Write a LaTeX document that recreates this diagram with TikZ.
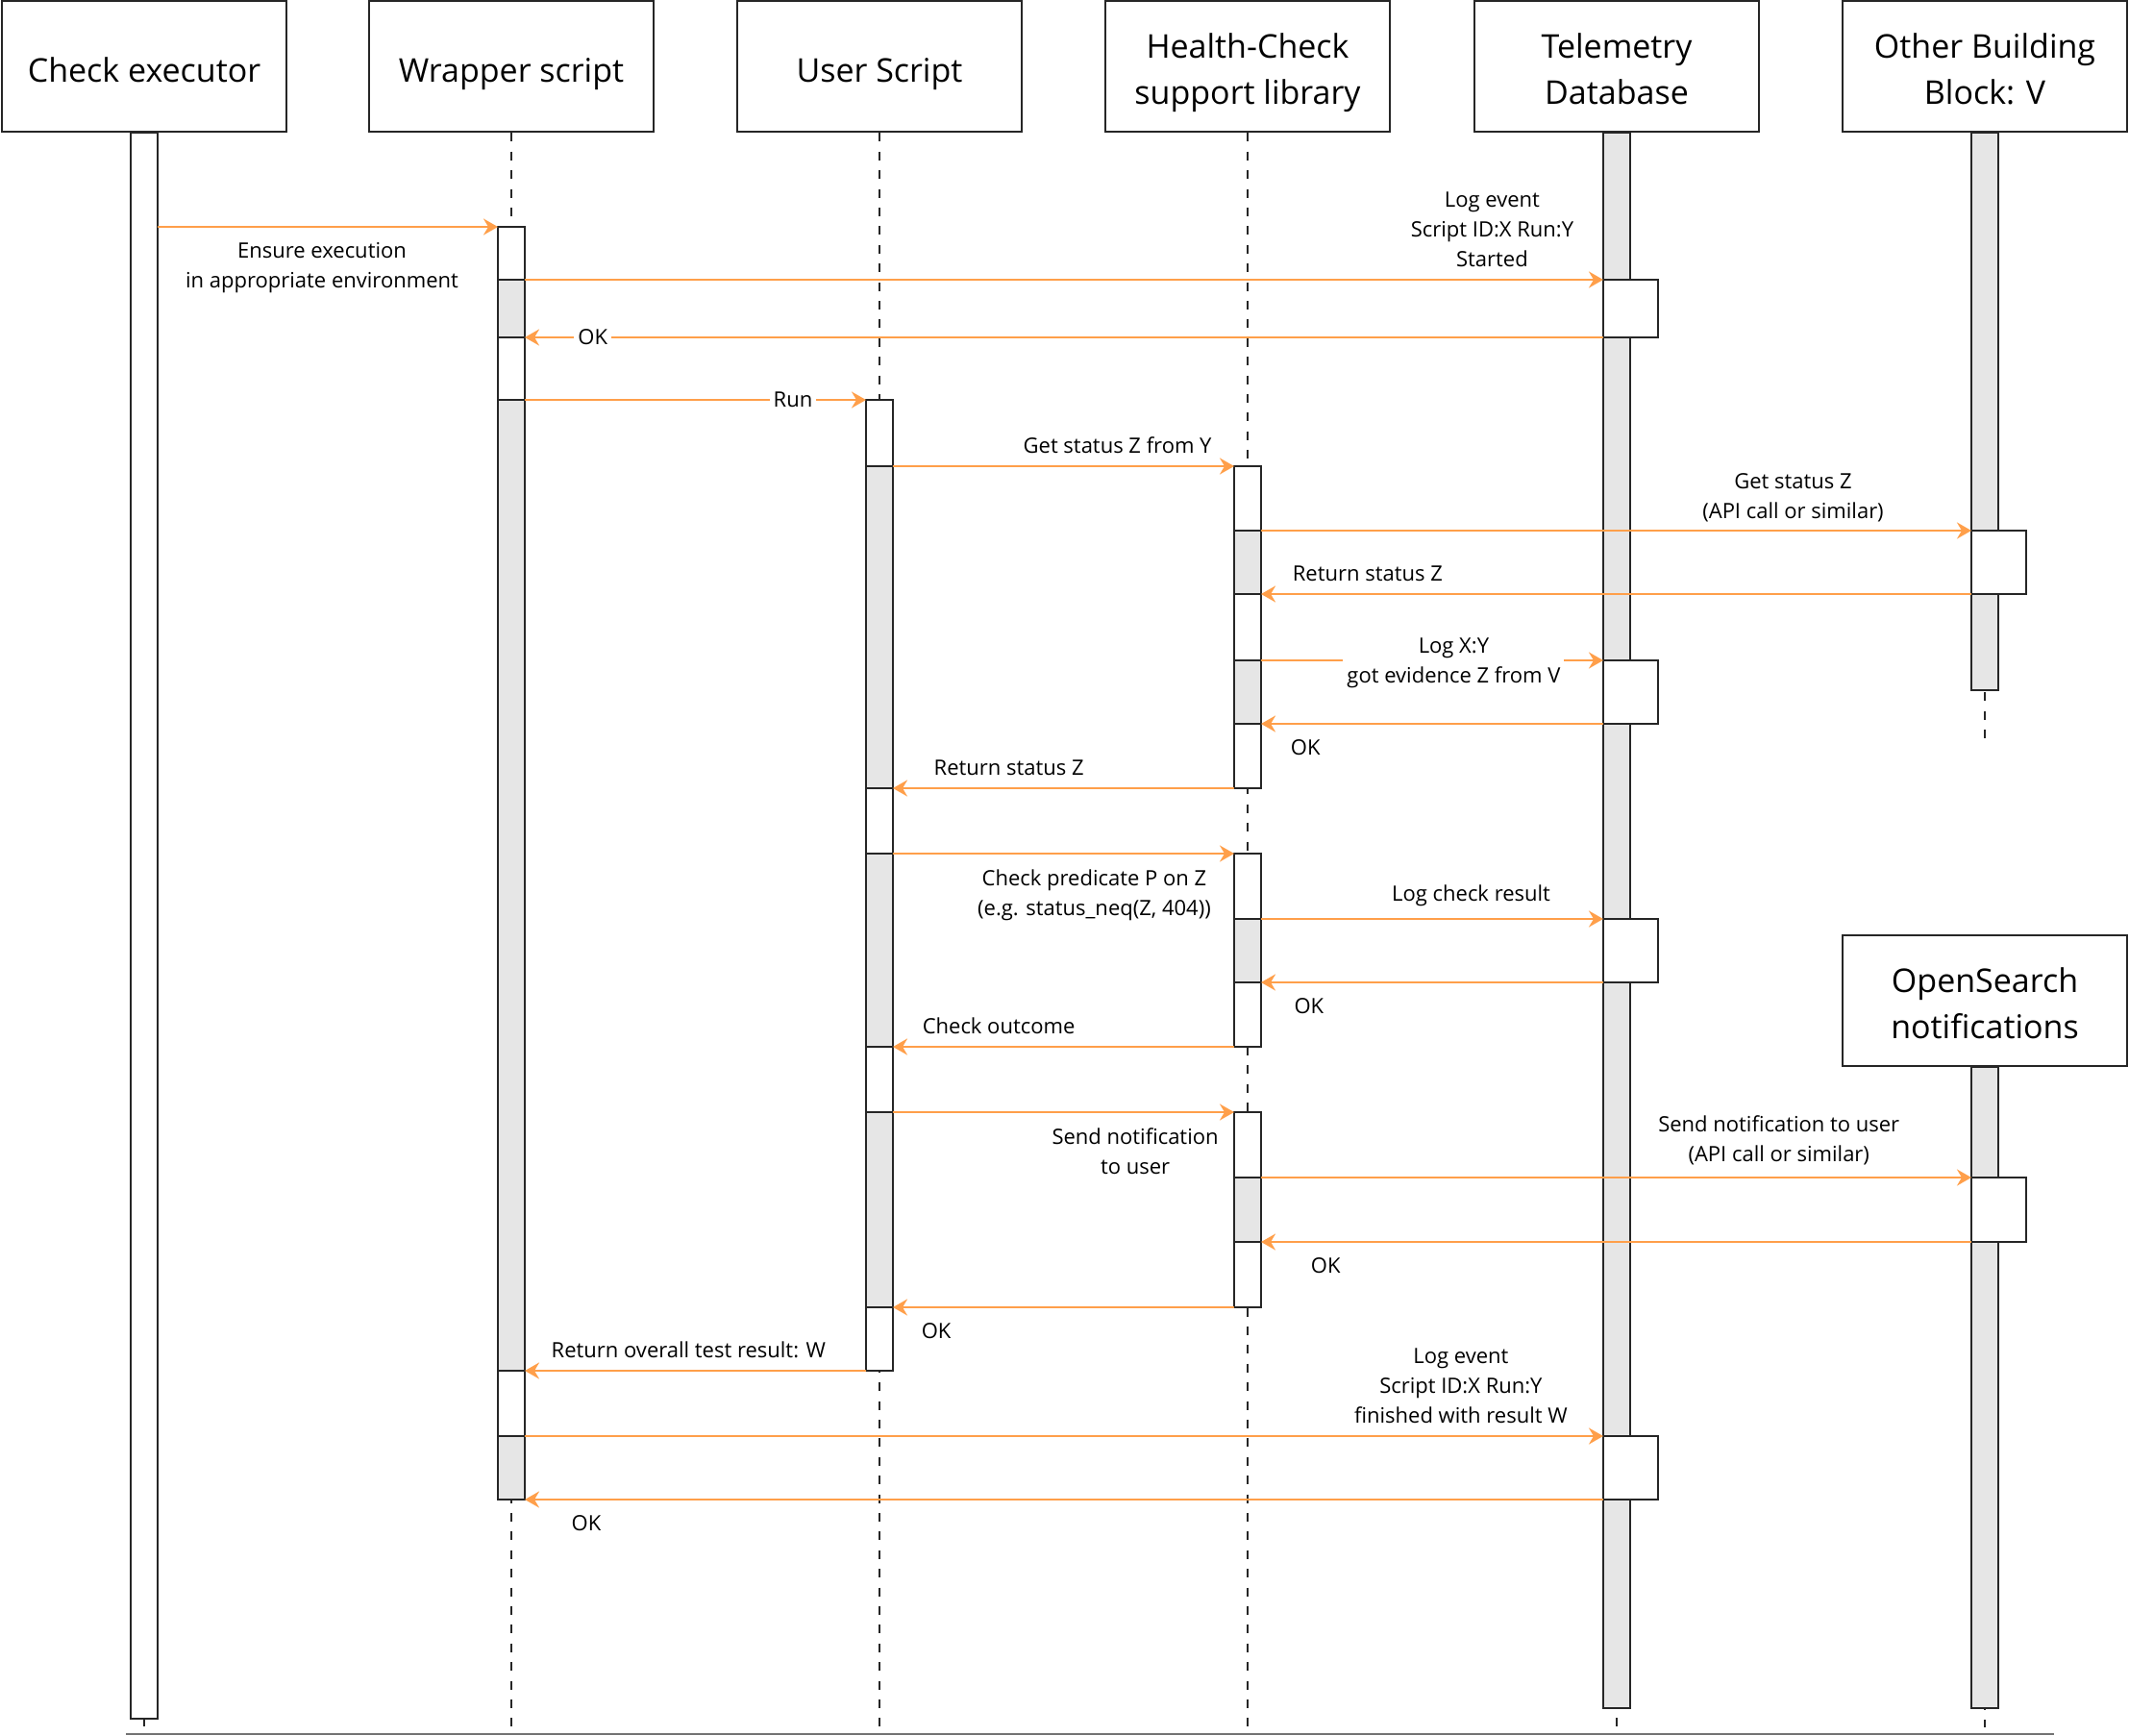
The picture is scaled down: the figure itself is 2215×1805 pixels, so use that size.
\documentclass[tikz,border=0pt]{standalone}
\usepackage{fontspec}
\setmainfont{Open Sans}
\usetikzlibrary{arrows.meta,fit}
\definecolor{msgorange}{RGB}{255,159,74}
\definecolor{bargrey}{RGB}{230,230,230}
\tikzset{
    actor/.style = {
        draw=black!85,
        line width=1.3pt,
        align=center,
        font=\fontsize{17}{24}\selectfont,
        minimum width=148pt,
        minimum height=68pt,
        text height=16pt,
        text depth=0pt,
        inner sep=0pt
    },
    actor2/.style = {actor, text height=39pt},
    seg/.style = {
        draw=black!85,
        line width=1.3pt,
        inner sep=0pt,
        outer sep=0pt
    },
    idle/.style = {seg, fill=white},
    busy/.style = {seg, fill=bargrey},
    lifeline/.style = {
        draw=black!85,
        line width=1pt,
        dash pattern=on 4.5pt off 5.2pt
    },
    msg/.style = {
        draw=msgorange,
        line width=1.3pt,
        -{Stealth[length=7.5pt,width=8.5pt,inset=2.5pt]}
    },
    lbl/.style = {
        font=\fontsize{11}{15.5}\selectfont,
        align=center,
        text=black,
        inner sep=4pt
    },
    up/.style = {lbl, above=2pt},
    down/.style = {lbl, below=3.5pt},
    inl/.style = {lbl, fill=white, inner sep=2pt}
}

\begin{document}
\begin{tikzpicture}[x=0.5pt,y=-0.5pt]
\useasboundingbox (0,0) rectangle (2215,1805);

% participants
\node[actor] (executor) at (150,69) {Check executor};
\node[actor] (wrapper) at (532,69) {Wrapper script};
\node[actor] (userscript) at (915,69) {User Script};
\node[actor2] (library) at (1298,69) {Health-Check\\support library};
\node[actor2] (telemetry) at (1682,69) {Telemetry\\Database};
\node[actor2] (otherblock) at (2065,69) {Other Building\\Block: V};
\node[actor2] (opensearch) at (2065,1041) {OpenSearch\\notifications};

% lifelines
\foreach \who in {executor,wrapper,userscript,library,telemetry,opensearch}
    \draw[lifeline] (\who.south) -- (\who.south |- 0,1797);
\draw[lifeline] (otherblock.south) -- (otherblock.south |- 0,774);

% long bars
\node[idle, fit={(136,138) (164,1788)}] (execbar) {};
\node[busy, fit={(1668,138) (1696,1777)}] (telbar) {};
\node[busy, fit={(2051,138) (2079,718)}] (otherbar) {};
\node[busy, fit={(2051,1110) (2079,1777)}] (osbar) {};

% activation segments
\foreach \nm/\st/\a/\b in {w1/idle/236/291, w2/busy/291/351, w3/idle/351/416,
        w4/busy/416/1426, w5/idle/1426/1494, w6/busy/1494/1560}
    \node[\st, fit={(518,\a) (546,\b)}] (\nm) {};
\foreach \nm/\st/\a/\b in {u1/idle/416/485, u2/busy/485/820, u3/idle/820/888,
        u4/busy/888/1089, u5/idle/1089/1157, u6/busy/1157/1360, u7/idle/1360/1426}
    \node[\st, fit={(901,\a) (929,\b)}] (\nm) {};
\foreach \nm/\st/\a/\b in {h1/idle/485/552, h2/busy/552/618, h3/idle/618/687,
        h4/busy/687/753, h5/idle/753/820, h6/idle/888/956, h7/busy/956/1022,
        h8/idle/1022/1089, h9/idle/1157/1225, h10/busy/1225/1292, h11/idle/1292/1360}
    \node[\st, fit={(1284,\a) (1312,\b)}] (\nm) {};
\foreach \nm/\a/\b in {t1/291/351, t2/687/753, t3/956/1022, t4/1494/1560}
    \node[idle, fit={(1668,\a) (1725,\b)}] (\nm) {};
\node[idle, fit={(2051,552) (2108,618)}] (ob) {};
\node[idle, fit={(2051,1225) (2108,1292)}] (os) {};

% messages
\draw[msg] (execbar.east |- w1.north) -- (w1.north west)
    node[down, pos=0.483] {Ensure execution\\in appropriate environment};
\draw[msg] (w1.south east) -- (t1.north west)
    node[up, pos=0.897] {Log event\\Script ID:X Run:Y\\Started};
\draw[msg] (t1.south west) -- (w3.north east) node[inl, pos=0.937] {OK};
\draw[msg] (w3.south east) -- (u1.north west) node[inl, pos=0.786] {Run};
\draw[msg] (u1.south east) -- (h1.north west)
    node[up, pos=0.658] {Get status Z from Y};
\draw[msg] (h1.south east) -- (ob.north west)
    node[lbl, above, pos=0.749] {Get status Z\\(API call or similar)};
\draw[msg] (ob.south west) -- (h2.south east)
    node[up, pos=0.85] {Return status Z};
\draw[msg] (h3.south east) -- (t2.north west)
    node[inl, yshift=-1.4pt, pos=0.563] {Log X:Y\\got evidence Z from V};
\draw[msg] (t2.south west) -- (h4.south east) node[down, pos=0.87] {OK};
\draw[msg] (h5.south west) -- (u3.north east)
    node[up, pos=0.66] {Return status Z};
\draw[msg] (u3.south east) -- (h6.north west)
    node[down, pos=0.59] {Check predicate P on Z\\(e.g. status\_neq(Z, 404))};
\draw[msg] (h6.south east) -- (t3.north west)
    node[up, pos=0.614] {Log check result};
\draw[msg] (t3.south west) -- (h7.south east) node[down, pos=0.86] {OK};
\draw[msg] (h8.south west) -- (u5.north east)
    node[up, pos=0.69] {Check outcome};
\draw[msg] (u5.south east) -- (h9.north west)
    node[down, pos=0.71] {Send notification\\to user};
\draw[msg] (h9.south east) -- (os.north west)
    node[up, pos=0.729] {Send notification to user\\(API call or similar)};
\draw[msg] (os.south west) -- (h10.south east) node[down, pos=0.909] {OK};
\draw[msg] (h11.south west) -- (u7.north east) node[down, pos=0.873] {OK};
\draw[msg] (u7.south west) -- (w4.south east)
    node[up, pos=0.52] {Return overall test result: W};
\draw[msg] (w5.south east) -- (t4.north west)
    node[up, pos=0.868] {Log event\\Script ID:X Run:Y\\finished with result W};
\draw[msg] (t4.south west) -- (w6.south east) node[down, pos=0.943] {OK};

% baseline
\draw[line width=1pt, black!55] (131,1804) -- (2137,1804);
\end{tikzpicture}
\end{document}
